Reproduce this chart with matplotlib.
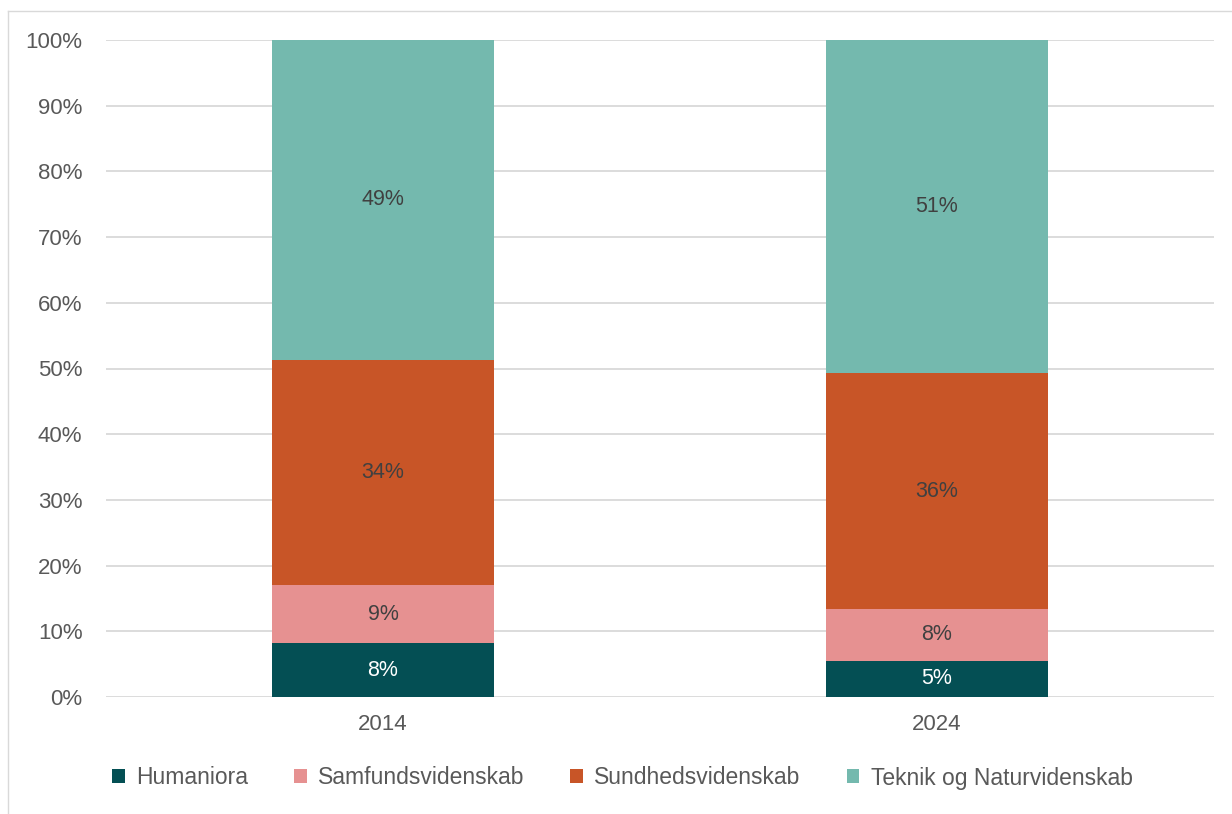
import matplotlib.pyplot as plt
from matplotlib.lines import Line2D
from matplotlib.patches import Patch
import numpy as np

plt.rcParams['font.family'] = ['Liberation Sans', 'DejaVu Sans']

years = ['2014', '2024']
series = ['Humaniora', 'Samfundsvidenskab', 'Sundhedsvidenskab', 'Teknik og Naturvidenskab']
humaniora = [8.2, 5.5]
samfund = [8.8, 7.9]
sundhed = [34.3, 35.9]
teknik = [48.7, 50.7]
labels = [['8%', '5%'], ['9%', '8%'], ['34%', '36%'], ['49%', '51%']]

colors = ['#044F54', '#E69191', '#C85527', '#74B9AE']
text_colors = ['white', '#404040', '#404040', '#404040']

fig = plt.figure(figsize=(12.32, 8.14), dpi=100)
ax = fig.add_axes([106 / 1232, 1 - 697 / 814, 1108 / 1232, 657 / 814])

x = np.arange(len(years))
bottom = np.zeros(len(years))
for i, vals in enumerate([humaniora, samfund, sundhed, teknik]):
    vals = np.array(vals)
    ax.bar(x, vals, 0.4, bottom=bottom, color=colors[i], zorder=3)
    for j in range(len(years)):
        ax.text(x[j], bottom[j] + vals[j] / 2, labels[i][j], ha='center', va='center',
                fontsize=15.5, color=text_colors[i], zorder=4)
    bottom += vals

ax.set_xlim(-0.5, 1.5)
ax.set_ylim(0, 100)
ax.set_yticks(range(0, 101, 10))
ax.set_yticklabels([f'{v}%' for v in range(0, 101, 10)])
ax.set_xticks(x)
ax.set_xticklabels(years)
ax.grid(axis='y', color='#D9D9D9', linewidth=1.3, zorder=0)
ax.tick_params(length=0, labelsize=16, labelcolor='#595959')
ax.tick_params(axis='y', pad=17)
ax.tick_params(axis='x', pad=12)
for s in ax.spines.values():
    s.set_visible(False)

handles = [Patch(facecolor=c, edgecolor='none') for c in colors]
fig.legend(handles, series, loc='center left', bbox_to_anchor=(112 / 1232, 1 - 778 / 814), ncol=4,
           frameon=False, fontsize=16.5, labelcolor='#595959', handlelength=0.55,
           handleheight=0.55, handletextpad=0.5, columnspacing=2.0, borderpad=0,
           borderaxespad=0)

# outer chart frame (left and top edges visible)
fig.add_artist(Line2D([8 / 1232, 8 / 1232], [0, 1 - 11 / 814], transform=fig.transFigure,
                      color='#D9D9D9', linewidth=1))
fig.add_artist(Line2D([8 / 1232, 1], [1 - 11 / 814, 1 - 11 / 814], transform=fig.transFigure,
                      color='#D9D9D9', linewidth=1))

fig.savefig('out.png', dpi=100)
